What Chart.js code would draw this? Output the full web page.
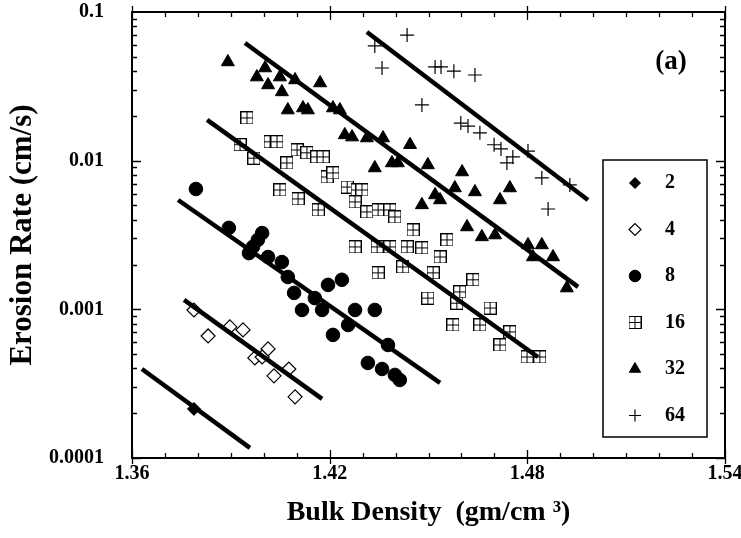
<!DOCTYPE html>
<html>
<head>
<meta charset="utf-8">
<script src="https://cdn.jsdelivr.net/npm/chart.js@4.4.1/dist/chart.umd.min.js"></script>
<style>
  body { margin: 0; background: #fff; }
  #erosionChart { display: block; }
</style>
</head>
<body>
<canvas id="erosionChart" width="741" height="538"></canvas>
<script>
// bulk density (gm/cm3) and erosion rate (cm/s)
const seriesLabels = ["2", "4", "8", "16", "32", "64"];

const density2 = [1.3788];
const erosion2 = [0.000214];

const density4 = [1.3788, 1.3831, 1.3897, 1.3937, 1.3973, 1.4013, 1.3995, 1.4031, 1.4076, 1.4095];
const erosion4 = [0.00099, 0.000662, 0.000762, 0.000727, 0.000471, 0.000542, 0.000478, 0.000357, 0.000397, 0.000258];

const density8 = [1.3794, 1.3894, 1.3995, 1.3982, 1.3967, 1.3955, 1.4013, 1.4055, 1.4073, 1.4092, 1.4116, 1.4155,
  1.4177, 1.4195, 1.4237, 1.4210, 1.4256, 1.4277, 1.4337, 1.4377, 1.4316, 1.4359, 1.4398, 1.4413];
const erosion8 = [0.00645, 0.00353, 0.00326, 0.00293, 0.00263, 0.00239, 0.00225, 0.00208, 0.00165, 0.00129, 0.00099, 0.00119,
  0.00099, 0.00146, 0.00158, 0.000673, 0.000785, 0.00099, 0.00099, 0.000576, 0.000436, 0.000397, 0.000362, 0.000335];

const density16 = [1.3949, 1.3928, 1.3970, 1.4019, 1.4040, 1.4070, 1.4101, 1.4131, 1.4161, 1.4180, 1.4192, 1.4210,
  1.4253, 1.4283, 1.4049, 1.4104, 1.4165, 1.4298, 1.4277, 1.4313, 1.4347, 1.4383, 1.4398, 1.4453, 1.4556, 1.4277,
  1.4344, 1.4383, 1.4435, 1.4480, 1.4535, 1.4347, 1.4422, 1.4514, 1.4635, 1.4498, 1.4595, 1.4586, 1.4687, 1.4574,
  1.4656, 1.4747, 1.4717, 1.4799, 1.4838];
const erosion16 = [0.0194, 0.0128, 0.0104, 0.0134, 0.0134, 0.00965, 0.0118, 0.0113, 0.0106, 0.0106, 0.00777, 0.00827,
  0.00665, 0.00635, 0.00635, 0.00553, 0.00466, 0.00635, 0.00528, 0.00452, 0.00466, 0.00466, 0.00418, 0.00342, 0.00293, 0.00263,
  0.00263, 0.00263, 0.00263, 0.00259, 0.00225, 0.00176, 0.00193, 0.00176, 0.00158, 0.00119, 0.00131, 0.00110, 0.00102, 0.000785,
  0.000785, 0.000705, 0.000576, 0.000478, 0.000478];

const density32 = [1.3891, 1.3979, 1.4004, 1.4013, 1.4049, 1.4055, 1.4095, 1.4171, 1.4073, 1.4119, 1.4134, 1.4210,
  1.4231, 1.4246, 1.4268, 1.4313, 1.4362, 1.4444, 1.4337, 1.4389, 1.4407, 1.4498, 1.4602, 1.4580, 1.4641, 1.4520,
  1.4535, 1.4480, 1.4747, 1.4717, 1.4617, 1.4662, 1.4702, 1.4802, 1.4844, 1.4817, 1.4878, 1.4920];
const erosion32 = [0.0461, 0.0365, 0.0420, 0.0323, 0.0365, 0.0290, 0.0349, 0.0333, 0.0219, 0.0226, 0.0219, 0.0226,
  0.0219, 0.0149, 0.0144, 0.0142, 0.0142, 0.0128, 0.00893, 0.00965, 0.00965, 0.00936, 0.00839, 0.00655, 0.00616, 0.00588,
  0.00544, 0.00504, 0.00655, 0.00544, 0.00358, 0.00307, 0.00316, 0.00271, 0.00271, 0.00225, 0.00225, 0.00139];

const density64 = [1.4435, 1.4337, 1.4359, 1.4520, 1.4538, 1.4577, 1.4641, 1.4480, 1.4598, 1.4620, 1.4656, 1.4699,
  1.4720, 1.4756, 1.4738, 1.4802, 1.4844, 1.4863, 1.4929];
const erosion64 = [0.0700, 0.0591, 0.0420, 0.0427, 0.0427, 0.0400, 0.0377, 0.0237, 0.0179, 0.0171, 0.0154, 0.0128,
  0.0120, 0.0106, 0.00965, 0.0116, 0.00765, 0.00473, 0.00687];

// end points of the fitted lines
const fitX2 = [1.3630, 1.3958];
const fitY2 = [0.000397, 0.000117];
const fitX4 = [1.3758, 1.4177];
const fitY4 = [0.001157, 0.000250];
const fitX8 = [1.3740, 1.4535];
const fitY8 = [0.00544, 0.000320];
const fitX16 = [1.3828, 1.4832];
const fitY16 = [0.0188, 0.000478];
const fitX32 = [1.3943, 1.4954];
const fitY32 = [0.0619, 0.001415];
const fitX64 = [1.4313, 1.4984];
const fitY64 = [0.0733, 0.00544];

// axis ticks
const xTickValues = [1.36, 1.42, 1.48, 1.54];
const yTickValues = [0.0001, 0.001, 0.01, 0.1];
const yTickLabels = ["0.0001", "0.001", "0.01", "0.1"];

const SERIF = "'Liberation Serif', 'DejaVu Serif', serif";

const toPoints = (xs, ys) => xs.map((v, i) => ({ x: v, y: ys[i] }));

// square with a cross inside, for the 16 series
const boxPlus = document.createElement("canvas");
boxPlus.width = 13;
boxPlus.height = 13;
(function () {
  const b = boxPlus.getContext("2d");
  b.fillStyle = "#fff";
  b.fillRect(0, 0, 13, 13);
  b.strokeStyle = "#000";
  b.lineWidth = 1;
  b.strokeRect(0.5, 0.5, 12, 12);
  b.beginPath();
  b.moveTo(6.5, 1); b.lineTo(6.5, 12);
  b.moveTo(1, 6.5); b.lineTo(12, 6.5);
  b.stroke();
})();

const markers = [
  { pointStyle: "rectRot", radius: 6.5, bg: "#000", border: "#000", bw: 1 },
  { pointStyle: "rectRot", radius: 7, bg: "#fff", border: "#000", bw: 1.2 },
  { pointStyle: "circle", radius: 6.8, bg: "#000", border: "#000", bw: 1 },
  { pointStyle: boxPlus, radius: 6.5, bg: "#fff", border: "#000", bw: 1 },
  { pointStyle: "triangle", radius: 7.5, bg: "#000", border: "#000", bw: 1 },
  { pointStyle: "cross", radius: 7, bg: "#000", border: "#000", bw: 1.2 },
];

const pointSets = [
  [density2, erosion2], [density4, erosion4], [density8, erosion8],
  [density16, erosion16], [density32, erosion32], [density64, erosion64],
];
const fitSets = [
  [fitX2, fitY2], [fitX4, fitY4], [fitX8, fitY8],
  [fitX16, fitY16], [fitX32, fitY32], [fitX64, fitY64],
];

const fitDatasets = fitSets.map((f, i) => ({
  label: "fit " + seriesLabels[i],
  data: toPoints(f[0], f[1]),
  showLine: true,
  borderColor: "#000",
  borderWidth: 4.5,
  pointRadius: 0,
  fill: false,
}));

const pointDatasets = pointSets.map((p, i) => ({
  label: seriesLabels[i],
  data: toPoints(p[0], p[1]),
  showLine: false,
  pointStyle: markers[i].pointStyle,
  pointRadius: markers[i].radius,
  backgroundColor: markers[i].bg,
  borderColor: markers[i].border,
  borderWidth: markers[i].bw,
}));

// frame, inward ticks, legend box and panel tag
const framePlugin = {
  id: "framePlugin",
  afterDraw(chart) {
    const { ctx, chartArea: a, scales } = chart;
    const sx = scales.x, sy = scales.y;
    ctx.save();
    ctx.strokeStyle = "#000";
    ctx.lineWidth = 1.3;
    ctx.beginPath();
    for (let i = 0; i <= 18; i++) {
      const px = Math.round(sx.getPixelForValue(1.36 + i * 0.01)) + 0.5;
      const major = i % 6 === 0;
      const len = major ? 8 : 5;
      const out = major ? 6 : 0;
      ctx.moveTo(px, a.bottom + out); ctx.lineTo(px, a.bottom - len);
      ctx.moveTo(px, a.top - out); ctx.lineTo(px, a.top + len);
    }
    for (let d = -4; d <= -2; d++) {
      for (let m = 1; m <= 9; m++) {
        const py = Math.round(sy.getPixelForValue(m * Math.pow(10, d))) + 0.5;
        const len = m === 1 ? 9 : 5;
        ctx.moveTo(a.left, py); ctx.lineTo(a.left + len, py);
        ctx.moveTo(a.right, py); ctx.lineTo(a.right - len, py);
      }
    }
    ctx.stroke();
    ctx.lineWidth = 2;
    ctx.strokeRect(a.left, a.top, a.right - a.left, a.bottom - a.top);

    // legend
    const lx = a.right - 122, ly = a.top + 148, lw = 104, lh = 277;
    ctx.fillStyle = "#fff";
    ctx.fillRect(lx, ly, lw, lh);
    ctx.lineWidth = 1.5;
    ctx.strokeRect(lx, ly, lw, lh);
    ctx.font = "bold 20px " + SERIF;
    ctx.textBaseline = "middle";
    ctx.textAlign = "left";
    seriesLabels.forEach((lab, i) => {
      const cy = ly + 23 + i * 46.5;
      const m = markers[i];
      ctx.fillStyle = m.bg;
      ctx.strokeStyle = m.border;
      ctx.lineWidth = m.bw;
      Chart.helpers.drawPoint(ctx, { pointStyle: m.pointStyle, radius: m.radius - 1, rotation: 0, borderWidth: m.bw }, lx + 32, cy);
      ctx.fillStyle = "#000";
      ctx.fillText(lab, lx + 62, cy);
    });

    ctx.font = "bold 27px " + SERIF;
    ctx.textAlign = "center";
    ctx.fillStyle = "#000";
    ctx.fillText("(a)", a.right - 54, a.top + 50);
    ctx.restore();
  },
};

const ctx = document.getElementById("erosionChart").getContext("2d");

const erosionChart = new Chart(ctx, {
  type: "scatter",
  data: { datasets: fitDatasets.concat(pointDatasets) },
  options: {
    responsive: false,
    animation: false,
    layout: { padding: { left: 0, right: 16, top: 12, bottom: 0 } },
    scales: {
      x: {
        type: "linear",
        min: 1.36,
        max: 1.54,
        afterBuildTicks: (s) => { s.ticks = xTickValues.map((v) => ({ value: v })); },
        afterFit: (s) => { s.height = 80; s.paddingLeft = 0; s.paddingRight = 0; },
        grid: { display: false, drawTicks: false },
        border: { display: false },
        ticks: {
          color: "#000",
          padding: 4,
          maxRotation: 0,
          autoSkip: false,
          font: { family: SERIF, size: 20, weight: "bold" },
          callback: (value) => value.toFixed(2),
        },
        title: {
          display: true,
          text: "Bulk Density  (gm/cm ³)",
          color: "#000",
          padding: { top: 0, bottom: 8 },
          font: { family: SERIF, size: 28, weight: "bold" },
        },
      },
      y: {
        type: "logarithmic",
        min: 0.0001,
        max: 0.1,
        afterBuildTicks: (s) => { s.ticks = yTickValues.map((v) => ({ value: v })); },
        afterFit: (s) => { s.width = 132; s.paddingTop = 0; s.paddingBottom = 0; },
        grid: { display: false, drawTicks: false },
        border: { display: false },
        ticks: {
          color: "#000",
          padding: 28,
          autoSkip: false,
          font: { family: SERIF, size: 20, weight: "bold" },
          callback: (value, index) => yTickLabels[index],
        },
        title: {
          display: true,
          text: "Erosion Rate (cm/s)",
          color: "#000",
          padding: { top: 4, bottom: 0 },
          font: { family: SERIF, size: 31, weight: "bold" },
        },
      },
    },
    plugins: {
      legend: { display: false },
      tooltip: { enabled: false },
    },
  },
  plugins: [framePlugin],
});
</script>
</body>
</html>
